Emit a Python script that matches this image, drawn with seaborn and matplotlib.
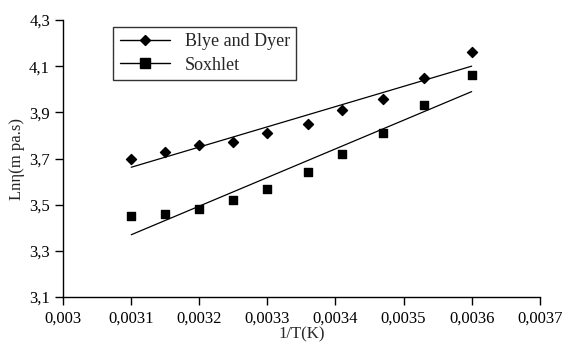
import numpy as np
import pandas as pd
import seaborn as sns
import matplotlib.pyplot as plt
from matplotlib.lines import Line2D
from matplotlib.ticker import FuncFormatter

inv_t = [0.0031, 0.00315, 0.0032, 0.00325, 0.0033, 0.00336, 0.00341, 0.00347, 0.00353, 0.0036]
blye_dyer = [3.70, 3.73, 3.76, 3.77, 3.81, 3.85, 3.91, 3.96, 4.05, 4.16]
soxhlet = [3.45, 3.46, 3.48, 3.52, 3.57, 3.64, 3.72, 3.81, 3.93, 4.06]

x_ticks = [0.003, 0.0031, 0.0032, 0.0033, 0.0034, 0.0035, 0.0036, 0.0037]
y_ticks = [3.1, 3.3, 3.5, 3.7, 3.9, 4.1, 4.3]

df = pd.DataFrame({"x": inv_t, "Blye and Dyer": blye_dyer, "Soxhlet": soxhlet})

sns.set_style("ticks")
plt.rcParams["font.family"] = ["Liberation Serif", "DejaVu Serif"]

fig = plt.figure(figsize=(5.64, 3.52), dpi=100)
ax = fig.add_axes([0.112, 0.156, 0.845, 0.787])

sns.regplot(data=df, x="x", y="Blye and Dyer", ax=ax, ci=None, marker="D",
            color="black", scatter_kws={"s": 26, "alpha": 1}, line_kws={"lw": 0.9})
sns.regplot(data=df, x="x", y="Soxhlet", ax=ax, ci=None, marker="s",
            color="black", scatter_kws={"s": 40, "alpha": 1}, line_kws={"lw": 0.9})

ax.set_xlim(0.003, 0.0037)
ax.set_ylim(3.1, 4.3)
ax.set_xticks(x_ticks)
ax.set_yticks(y_ticks)

def comma(v, pos):
    s = ("%.4f" % v).rstrip("0").rstrip(".")
    return s.replace(".", ",")

def comma1(v, pos):
    return ("%.1f" % v).replace(".", ",")

ax.xaxis.set_major_formatter(FuncFormatter(comma))
ax.yaxis.set_major_formatter(FuncFormatter(comma1))
ax.tick_params(labelsize=12, length=6, width=1, color="black", labelcolor="black")
for s in ["top", "right"]:
    ax.spines[s].set_visible(False)
for s in ["left", "bottom"]:
    ax.spines[s].set_color("black")
    ax.spines[s].set_linewidth(1)

ax.set_xlabel("1/T(K)", fontsize=12, labelpad=0)
ax.set_ylabel("Lnη(m pa.s)", fontsize=12, labelpad=3)

handles = [
    Line2D([], [], color="black", marker="D", markersize=5.5, lw=1),
    Line2D([], [], color="black", marker="s", markersize=6.5, lw=1),
]
leg = ax.legend(handles, ["Blye and Dyer", "Soxhlet"], loc="upper left",
                bbox_to_anchor=(0.105, 0.975), fontsize=13, frameon=True,
                fancybox=False, borderpad=0.35, handlelength=2.8,
                labelspacing=0.35, borderaxespad=0)
leg.get_frame().set_edgecolor("black")
leg.get_frame().set_linewidth(1)

fig.savefig("out.png", dpi=100)
